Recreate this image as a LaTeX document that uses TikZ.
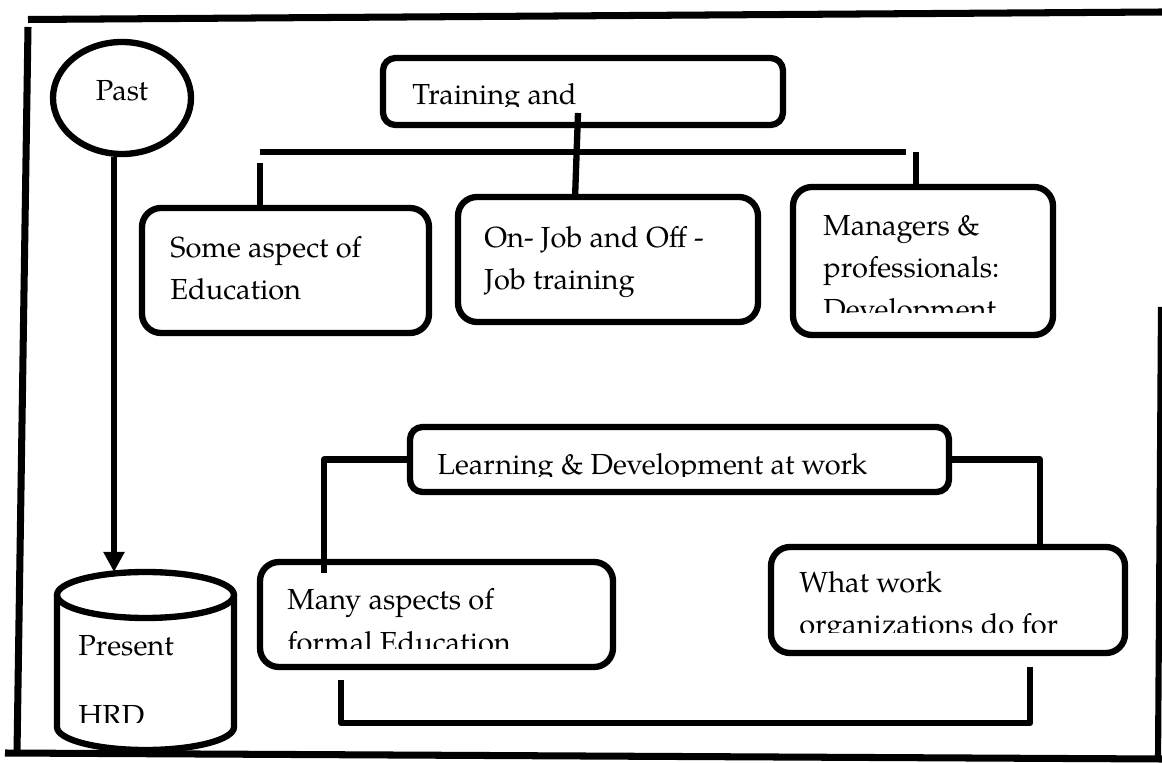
\documentclass[tikz,border=0pt]{standalone}
\usepackage{fontspec}
\setmainfont{TeX Gyre Pagella}
\usetikzlibrary{shapes.geometric,arrows.meta}

\begin{document}
\begin{tikzpicture}[line join=round]
\tikzstyle{frame_style} = [draw=black, line width=4pt]
\tikzstyle{box_style} = [draw=black, line width=3.6pt, rounded corners=0.38cm, inner sep=0pt]
\tikzstyle{bar_style} = [draw=black, line width=3.6pt, rounded corners=0.25cm, inner sep=0pt]
\tikzstyle{edge_style} = [draw=black, line width=3.6pt]
\tikzstyle{text_style} = [anchor=base west, align=left, inner sep=0pt, font=\fontsize{16.5}{24}\selectfont]

\useasboundingbox (0,0) rectangle (23.24,15.24);

% frame
\draw[frame_style] (0.56,14.85) -- (23.24,15.0);
\draw[frame_style] (0.56,14.70) -- (0.34,0.18);
\draw[frame_style] (0.10,0.18) -- (23.24,0.06);
\draw[frame_style, line width=3.5pt] (23.22,9.1) -- (23.16,0.0);

% past and present
\node[ellipse, draw=black, line width=3.6pt, minimum width=2.76cm, minimum height=2.24cm,
      text depth=9pt, font=\fontsize{16.5}{24}\selectfont] (past) at (2.44,13.28) {Past};
\coordinate (hrd) at (2.91,3.34);
\coordinate (hrdtop) at (2.91,3.80);
\draw[edge_style] (hrd) ellipse [x radius=1.77cm, y radius=0.46cm];
\draw[edge_style] ([xshift=-1.77cm]hrd) -- ++(0,-2.64)
    arc [start angle=180, end angle=360, x radius=1.77cm, y radius=0.46cm] -- ++(0,2.64);
\begin{scope}
\clip (1.2,0.80) rectangle (4.5,3.0);
\node[text_style] (hrd_txt) at (1.56,0.74) {Present\\[0.55cm]HRD};
\end{scope}
\draw[edge_style, -{Triangle[width=0.4cm,length=0.4cm]}] ([xshift=-0.16cm]past.south)
    -- ([xshift=-0.16cm]past.south |- hrdtop);

% training boxes
\node[bar_style, minimum width=8.0cm, minimum height=1.34cm] (train) at (11.66,13.41) {};
\node[box_style, minimum width=5.74cm, minimum height=2.5cm] (edu) at (5.71,9.83) {};
\node[box_style, minimum width=6.0cm, minimum height=2.5cm] (onjob) at (12.16,10.05) {};
\node[box_style, minimum width=5.2cm, minimum height=2.96cm] (mgr) at (18.46,10.02) {};

\begin{scope}
\clip (8.0,13.10) rectangle (15.5,14.0);
\node[text_style] (train_txt) at (8.24,13.14) {Training and};
\end{scope}
\node[text_style] (edu_txt) at (3.40,9.24) {Some aspect of\\Education};
\node[text_style] (onjob_txt) at (9.68,9.44) {On- Job and Off -\\Job training};
\begin{scope}
\clip (16.0,8.98) rectangle (20.8,11.2);
\node[text_style] (mgr_txt) at (16.46,8.84) {Managers \&\\professionals:\\Development};
\end{scope}

\coordinate (bar_l) at (5.2,12.2);
\coordinate (bar_r) at (18.12,12.2);
\coordinate (t_top) at (11.56,12.98);
\coordinate (t_bot) at (11.50,11.26);
\draw[edge_style] (t_top) -- (t_bot);
\draw[edge_style] (bar_l) -- (bar_r);
\draw[edge_style] ([yshift=-0.22cm]bar_l) -- (bar_l |- edu.north);
\draw[edge_style] ([xshift=0.2cm]bar_r) -- ([xshift=0.2cm]bar_r |- mgr.north);

% learning boxes
\node[bar_style, minimum width=10.78cm, minimum height=1.3cm] (learn) at (13.59,6.05) {};
\node[box_style, minimum width=7.06cm, minimum height=2.1cm] (many) at (8.73,2.95) {};
\node[box_style, minimum width=7.08cm, minimum height=2.12cm] (what) at (18.96,3.24) {};

\begin{scope}
\clip (8.4,5.70) rectangle (19.0,6.6);
\node[text_style] (learn_txt) at (8.74,5.74) {Learning \& Development at work};
\end{scope}
\begin{scope}
\clip (5.5,2.28) rectangle (12.0,3.9);
\node[text_style] (many_txt) at (5.74,2.20) {Many aspects of\\formal Education};
\end{scope}
\begin{scope}
\clip (15.7,2.58) rectangle (22.3,4.1);
\node[text_style] (what_txt) at (15.98,2.54) {What work\\organizations do for};
\end{scope}

\coordinate (many_in) at (6.48,3.78);
\coordinate (br_l) at (6.82,1.64);
\coordinate (br_r) at (20.6,1.9);
\draw[edge_style] (learn.west) -| (many_in);
\draw[edge_style] (learn.east) -| ([xshift=1.84cm]what.north);
\draw[edge_style] (br_l) -- ++(0,-0.86) -| (br_r);
\end{tikzpicture}
\end{document}
